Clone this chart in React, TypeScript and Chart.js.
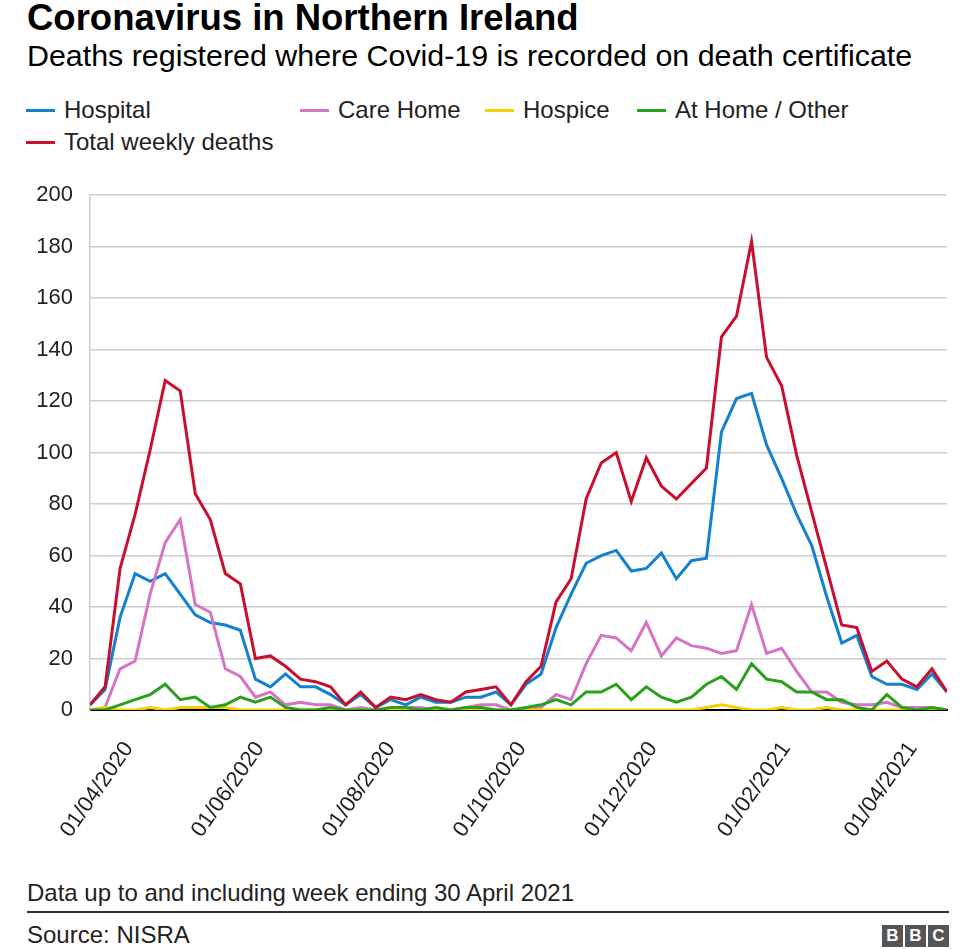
import React, { useEffect, useRef } from "react";
import { Chart, registerables } from "chart.js";

Chart.register(...registerables);

// Week-ending dates: first point, then one point every 7 days up to 30 April 2021
const FIRST_WEEK_ENDING = "2020-03-27";

const hospital = [
  2, 8, 36, 53, 50, 53, 45, 37, 34, 33, 31, 12, 9, 14, 9, 9, 6, 2, 6, 1,
  4, 2, 5, 3, 3, 5, 5, 7, 2, 10, 14, 32, 45, 57, 60, 62, 54, 55, 61, 51,
  58, 59, 108, 121, 123, 103, 90, 76, 64, 44, 26, 29, 13, 10, 10, 8, 14, 7,
];
const careHome = [
  0, 1, 16, 19, 45, 65, 74, 41, 38, 16, 13, 5, 7, 2, 3, 2, 2, 0, 1, 0,
  0, 1, 1, 0, 0, 1, 2, 2, 0, 0, 1, 6, 4, 18, 29, 28, 23, 34, 21, 28,
  25, 24, 22, 23, 41, 22, 24, 15, 7, 7, 3, 2, 2, 3, 1, 1, 1, 0,
];
const hospice = [
  0, 1, 0, 0, 1, 0, 1, 1, 1, 1, 0, 0, 0, 0, 0, 0, 0, 0, 0, 0,
  0, 0, 0, 0, 0, 0, 0, 0, 0, 0, 0, 0, 0, 0, 0, 0, 0, 0, 0, 0,
  0, 1, 2, 1, 0, 0, 1, 0, 0, 1, 0, 0, 0, 0, 0, 0, 0, 0,
];
const atHomeOther = [
  0, 0, 2, 4, 6, 10, 4, 5, 1, 2, 5, 3, 5, 1, 0, 0, 1, 0, 0, 0,
  1, 1, 0, 1, 0, 1, 1, 0, 0, 1, 2, 4, 2, 7, 7, 10, 4, 9, 5, 3,
  5, 10, 13, 8, 18, 12, 11, 7, 7, 4, 4, 1, 0, 6, 1, 0, 1, 0,
];
const totalWeekly = [
  2, 9, 55, 76, 101, 128, 124, 84, 74, 53, 49, 20, 21, 17, 12, 11, 9, 2, 7, 1,
  5, 4, 6, 4, 3, 7, 8, 9, 2, 11, 17, 42, 51, 82, 96, 100, 81, 98, 87, 82,
  88, 94, 145, 153, 182, 137, 126, 99, 77, 55, 33, 32, 15, 19, 12, 9, 16, 7,
];

const xTickLabels = [
  "01/04/2020",
  "01/06/2020",
  "01/08/2020",
  "01/10/2020",
  "01/12/2020",
  "01/02/2021",
  "01/04/2021",
];
const yMin = 0;
const yMax = 200;
const yStep = 20;

const seriesNames = ["Hospital", "Care Home", "Hospice", "At Home / Other", "Total weekly deaths"];
const seriesColors = ["#1380d0", "#d674c4", "#f8cf00", "#2aa11c", "#c8102e"];

const FONT = '"Liberation Sans", Arial, Helvetica, sans-serif';
const DAY = 86400000;
const t0 = Date.parse(FIRST_WEEK_ENDING + "T00:00:00Z");
const dayOf = (s: string) => {
  const [d, m, y] = s.split("/").map(Number);
  return Math.round((Date.UTC(y, m - 1, d) - t0) / DAY);
};
const fmtDay = (day: number) => {
  const dt = new Date(t0 + day * DAY);
  const dd = String(dt.getUTCDate()).padStart(2, "0");
  const mm = String(dt.getUTCMonth() + 1).padStart(2, "0");
  return `${dd}/${mm}/${dt.getUTCFullYear()}`;
};
const weekDays = totalWeekly.map((_, i) => i * 7);
const lastDay = weekDays[weekDays.length - 1];
const tickDays = xTickLabels.map(dayOf);

const toPoints = (arr: number[]) => arr.map((v, i) => ({ x: weekDays[i], y: v }));

function ChartCanvas() {
  const ref = useRef<HTMLCanvasElement | null>(null);
  useEffect(() => {
    if (!ref.current) return;
    const series = [hospital, careHome, hospice, atHomeOther, totalWeekly];
    const drawOrder = [4, 3, 2, 1, 0];
    const chart = new Chart(ref.current, {
      type: "line",
      data: {
        datasets: series.map((s, i) => ({
          label: seriesNames[i],
          data: toPoints(s),
          borderColor: seriesColors[i],
          backgroundColor: seriesColors[i],
          borderWidth: 3,
          pointRadius: 0,
          tension: 0,
          fill: false,
          order: drawOrder[i],
        })),
      },
      options: {
        animation: false,
        responsive: false,
        devicePixelRatio: 1,
        layout: { padding: { top: 25, right: 29, left: 0, bottom: 0 } },
        plugins: { legend: { display: false }, tooltip: { enabled: false } },
        scales: {
          x: {
            type: "linear",
            min: 0,
            max: lastDay,
            afterBuildTicks: (s: any) => {
              s.ticks = tickDays.map((v) => ({ value: v }));
            },
            afterFit: (s: any) => {
              s.height = 160;
            },
            grid: { display: false, drawTicks: false },
            border: { display: true, color: "#000000", width: 2 },
            ticks: {
              autoSkip: false,
              minRotation: 55,
              maxRotation: 55,
              padding: 27,
              labelOffset: 28,
              color: "#222222",
              font: { family: FONT, size: 22 },
              callback: (v: any) => fmtDay(Number(v)),
            },
          },
          y: {
            min: yMin,
            max: yMax,
            afterFit: (s: any) => {
              s.width = 90;
            },
            grid: {
              drawTicks: false,
              color: (ctx: any) => (ctx.tick && ctx.tick.value === 0 ? "#000000" : "#cccccc"),
              lineWidth: (ctx: any) => (ctx.tick && ctx.tick.value === 0 ? 2 : 1.5),
            },
            border: { display: true, color: "#cccccc", width: 1.5 },
            ticks: {
              stepSize: yStep,
              padding: 17,
              color: "#222222",
              font: { family: FONT, size: 22 },
            },
          },
        },
      },
    } as any);
    return () => chart.destroy();
  }, []);
  return (
    <canvas
      ref={ref}
      width={976}
      height={705}
      style={{ position: "absolute", left: 0, top: 165, width: 976, height: 705 }}
    />
  );
}

const legendRows: { idx: number; x: number; y: number }[] = [
  { idx: 0, x: 26, y: 110 },
  { idx: 1, x: 300, y: 110 },
  { idx: 2, x: 485, y: 110 },
  { idx: 3, x: 637, y: 110 },
  { idx: 4, x: 26, y: 142 },
];

export default function App() {
  const text = (extra: React.CSSProperties): React.CSSProperties => ({
    position: "absolute",
    fontFamily: FONT,
    lineHeight: 1,
    whiteSpace: "nowrap",
    color: "#000",
    ...extra,
  });
  return (
    <div
      style={{
        position: "absolute",
        left: 0,
        top: 0,
        width: 976,
        height: 949,
        background: "#fff",
        overflow: "hidden",
      }}
    >
      <div style={text({ left: 27, top: 0, fontSize: 36.5, fontWeight: 700 })}>
        Coronavirus in Northern Ireland
      </div>
      <div style={text({ left: 27, top: 40, fontSize: 30.4 })}>
        Deaths registered where Covid-19 is recorded on death certificate
      </div>
      {legendRows.map((r) => (
        <React.Fragment key={r.idx}>
          <div
            style={{
              position: "absolute",
              left: r.x,
              top: r.y - 1.5,
              width: 29,
              height: 3,
              background: seriesColors[r.idx],
            }}
          />
          <div style={text({ left: r.x + 38, top: r.y - 12, fontSize: 24, color: "#222" })}>
            {seriesNames[r.idx]}
          </div>
        </React.Fragment>
      ))}
      <ChartCanvas />
      <div style={text({ left: 27, top: 881, fontSize: 24, color: "#222" })}>
        Data up to and including week ending 30 April 2021
      </div>
      <div
        style={{ position: "absolute", left: 27, top: 911, width: 922, height: 2, background: "#333" }}
      />
      <div style={text({ left: 27, top: 923, fontSize: 24, color: "#222" })}>Source: NISRA</div>
      <div style={{ position: "absolute", left: 882, top: 925, display: "flex", gap: 2 }}>
        {["B", "B", "C"].map((c, i) => (
          <div
            key={i}
            style={{
              width: 21,
              height: 22,
              background: "#555",
              color: "#fff",
              fontFamily: FONT,
              fontWeight: 700,
              fontSize: 17,
              lineHeight: "22px",
              textAlign: "center",
            }}
          >
            {c}
          </div>
        ))}
      </div>
    </div>
  );
}
